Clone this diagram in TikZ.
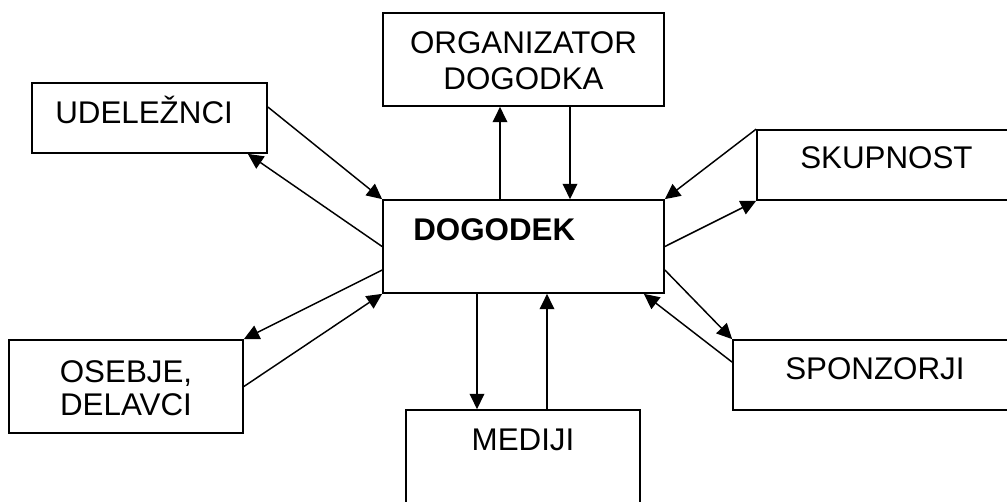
\documentclass[tikz,border=0pt]{standalone}
\usepackage{fontspec}
\setmainfont{Liberation Sans}
\usepackage{tikz}
\usetikzlibrary{arrows.meta,calc}
\tikzset{
    blok/.style={
        rectangle,
        draw=black,
        line width=1.3pt,
        inner sep=0pt,
    },
    napis/.style={
        inner sep=0pt,
        font=\fontsize{23.5}{27}\selectfont,
    },
    every edge/.style={
        draw,
        -{Triangle[length=11.5pt,width=11pt]},
        line width=1.1pt,
    },
}
\begin{document}
\begin{tikzpicture}[x=0.75pt,y=-0.75pt]
                \useasboundingbox (0,0) rectangle (1007,501);
                \clip (0,0) rectangle (1007,501);
                % okvirji
                \node [blok, minimum width=235*0.75pt, minimum height=70*0.75pt] (udel) at (149.5,118) {};
                \node [blok, minimum width=281*0.75pt, minimum height=93*0.75pt] (org) at (523.5,59.5) {};
                \node [blok, minimum width=281*0.75pt, minimum height=93*0.75pt] (dog) at (523.5,246.5) {};
                \node [blok, minimum width=273*0.75pt, minimum height=70*0.75pt] (skup) at (893.5,165) {};
                \node [blok, minimum width=234*0.75pt, minimum height=93*0.75pt] (oseb) at (126,386.5) {};
                \node [blok, minimum width=234*0.75pt, minimum height=93*0.75pt] (med) at (523,456.5) {};
                \node [blok, minimum width=276*0.75pt, minimum height=70*0.75pt] (spon) at (871,375) {};

                % napisi
                \node [napis, anchor=base west] (tudel) at (55,123) {UDELEŽNCI};
                \node [napis, anchor=base] (torg1) at (523.5,53) {ORGANIZATOR};
                \node [napis, anchor=base] (torg2) at (523.5,89) {DOGODKA};
                \node [napis, anchor=base west, font=\fontsize{23.5}{27}\selectfont\bfseries] (tdog) at (413,240) {DOGODEK};
                \node [napis, anchor=base west] (tskup) at (800,168) {SKUPNOST};
                \node [napis, anchor=base] (toseb1) at (126,382) {OSEBJE,};
                \node [napis, anchor=base] (toseb2) at (126,415) {DELAVCI};
                \node [napis, anchor=base] (tmed) at (523,450) {MEDIJI};
                \node [napis, anchor=base west] (tspon) at (785,379) {SPONZORJI};

                % puscice
                \draw ($(udel.east)+(0,-11)$) edge (dog.north west);
                \draw (dog.west) edge ($(udel.south east)+(-20,0)$);
                \draw ($(dog.north)+(-23.5,0)$) edge ($(org.south)+(-23.5,0)$);
                \draw ($(org.south)+(46.5,0)$) edge ($(dog.north)+(46.5,0)$);
                \draw (skup.north west) edge (dog.north east);
                \draw (dog.east) edge (skup.south west);
                \draw ($(dog.east)+(0,23.5)$) edge (spon.north west);
                \draw ($(spon.north west)+(0,23)$) edge ($(dog.south east)+(-21,0)$);
                \draw ($(dog.west)+(0,23.5)$) edge (oseb.north east);
                \draw (oseb.east) edge (dog.south west);
                \draw ($(dog.south)+(-46.5,0)$) edge ($(med.north)+(-46,0)$);
                \draw ($(med.north)+(24,0)$) edge ($(dog.south)+(23.5,0)$);
            \end{tikzpicture}
\end{document}
